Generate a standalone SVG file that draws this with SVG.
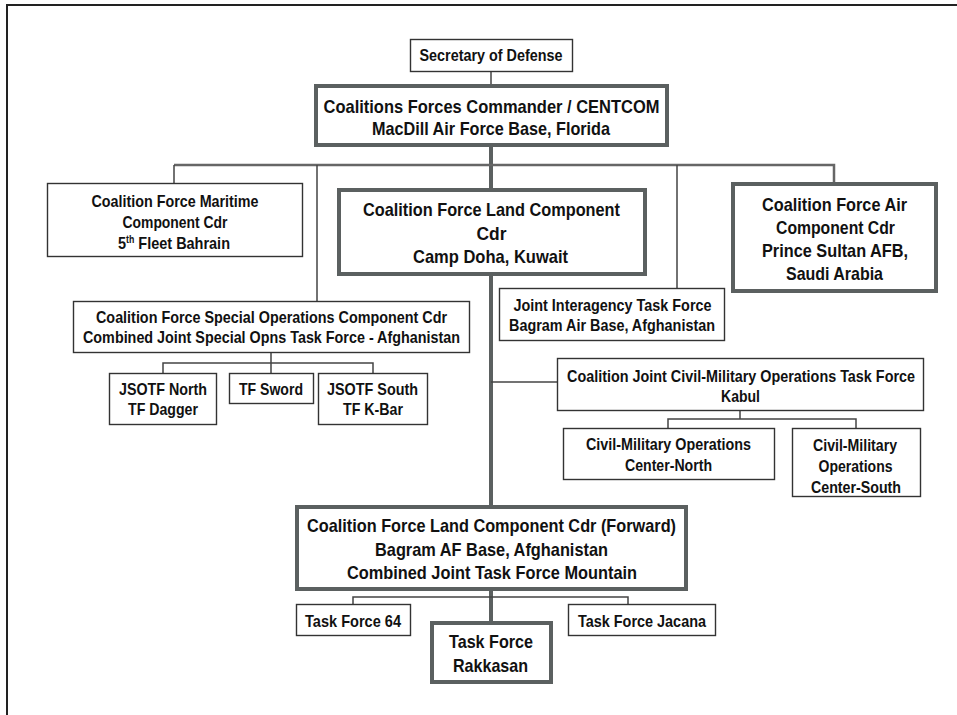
<svg xmlns="http://www.w3.org/2000/svg" width="957" height="715" viewBox="0 0 957 715">
<style>
text{font-family:"Liberation Sans Narrow","Liberation Sans",Arial,sans-serif;font-weight:bold;fill:#111;text-anchor:middle}
.s{font-size:16.5px}
.b{font-size:18.5px}
.thin{fill:#fff;stroke:#333;stroke-width:1.4}
.thick{fill:#fff;stroke:#5b6060;stroke-width:4}
.c{fill:none;stroke:#444;stroke-width:1.5}
.bus{fill:none;stroke:#666;stroke-width:2.5}
.trunk{fill:none;stroke:#5b6060;stroke-width:4}
</style>
<rect x="0" y="0" width="957" height="715" fill="#fff"/>
<path d="M7,715 V5 H957" fill="none" stroke="#222" stroke-width="2"/>
<g id="connectors">
<path class="c" d="M491,71 V84"/>
<path class="trunk" d="M491,147 V505 M491,591 V621"/>
<path class="bus" d="M174,165 H834 V182"/>
<path class="c" d="M174,165 V183 M317,165 V301 M677,165 V288"/>
<path class="c" d="M271,353 V363 M163,373 V363 H373 V373 M271,363 V373"/>
<path class="c" d="M491,382 H557"/>
<path class="c" d="M740,411 V419 M668,428 V419 H856 V428"/>
<path class="c" d="M353,604 V597 H628 V604"/>
</g>
<g id="secdef"><rect class="thin" x="410.5" y="39.5" width="162" height="32"/>
<text class="s" x="491" y="61" textLength="143" lengthAdjust="spacingAndGlyphs">Secretary of Defense</text></g>
<g id="centcom"><rect class="thick" x="316" y="86" width="351" height="59"/>
<text class="b" x="491.5" y="113" textLength="336" lengthAdjust="spacingAndGlyphs">Coalitions Forces Commander / CENTCOM</text>
<text class="b" x="491" y="135" textLength="238" lengthAdjust="spacingAndGlyphs">MacDill Air Force Base, Florida</text></g>
<g id="maritime"><rect class="thin" x="47.5" y="183.5" width="255" height="73"/>
<text class="s" x="175" y="207" textLength="167" lengthAdjust="spacingAndGlyphs">Coalition Force Maritime</text>
<text class="s" x="175" y="228" textLength="105" lengthAdjust="spacingAndGlyphs">Component Cdr</text>
<text class="s" x="174" y="249" textLength="112" lengthAdjust="spacingAndGlyphs">5<tspan font-size="10" dy="-6">th</tspan><tspan dy="6"> Fleet Bahrain</tspan></text></g>
<g id="land"><rect class="thick" x="339" y="190" width="306" height="84"/>
<text class="b" x="491.5" y="216" textLength="257" lengthAdjust="spacingAndGlyphs">Coalition Force Land Component</text>
<text class="b" x="491.5" y="240" textLength="30" lengthAdjust="spacingAndGlyphs">Cdr</text>
<text class="b" x="490.5" y="263" textLength="155" lengthAdjust="spacingAndGlyphs">Camp Doha, Kuwait</text></g>
<g id="air"><rect class="thick" x="733" y="184" width="203" height="107"/>
<text class="b" x="834.5" y="211" textLength="145" lengthAdjust="spacingAndGlyphs">Coalition Force Air</text>
<text class="b" x="835.5" y="234" textLength="119" lengthAdjust="spacingAndGlyphs">Component Cdr</text>
<text class="b" x="835" y="257" textLength="146" lengthAdjust="spacingAndGlyphs">Prince Sultan AFB,</text>
<text class="b" x="834.5" y="280" textLength="97" lengthAdjust="spacingAndGlyphs">Saudi Arabia</text></g>
<g id="specops"><rect class="thin" x="73.5" y="301.5" width="396" height="51"/>
<text class="s" x="271.5" y="323" textLength="351" lengthAdjust="spacingAndGlyphs">Coalition Force Special Operations Component Cdr</text>
<text class="s" x="271.5" y="343" textLength="377" lengthAdjust="spacingAndGlyphs">Combined Joint Special Opns Task Force - Afghanistan</text></g>
<g id="jsotf-north"><rect class="thin" x="109.5" y="373.5" width="107" height="51"/>
<text class="s" x="163" y="395" textLength="88" lengthAdjust="spacingAndGlyphs">JSOTF North</text>
<text class="s" x="163" y="415" textLength="70" lengthAdjust="spacingAndGlyphs">TF Dagger</text></g>
<g id="tf-sword"><rect class="thin" x="229.5" y="373.5" width="84" height="30"/>
<text class="s" x="271" y="395" textLength="64" lengthAdjust="spacingAndGlyphs">TF Sword</text></g>
<g id="jsotf-south"><rect class="thin" x="318.5" y="373.5" width="109" height="51"/>
<text class="s" x="372.5" y="395" textLength="91" lengthAdjust="spacingAndGlyphs">JSOTF South</text>
<text class="s" x="373" y="415" textLength="60" lengthAdjust="spacingAndGlyphs">TF K-Bar</text></g>
<g id="jiatf"><rect class="thin" x="499.5" y="288.5" width="225" height="52"/>
<text class="s" x="612.5" y="311" textLength="198" lengthAdjust="spacingAndGlyphs">Joint Interagency Task Force</text>
<text class="s" x="612" y="331" textLength="206" lengthAdjust="spacingAndGlyphs">Bagram Air Base, Afghanistan</text></g>
<g id="cjcmotf"><rect class="thin" x="557.5" y="358.5" width="366" height="52"/>
<text class="s" x="741" y="382" textLength="348" lengthAdjust="spacingAndGlyphs">Coalition Joint Civil-Military Operations Task Force</text>
<text class="s" x="740.5" y="402" textLength="39" lengthAdjust="spacingAndGlyphs">Kabul</text></g>
<g id="cmoc-north"><rect class="thin" x="563.5" y="428.5" width="211" height="51"/>
<text class="s" x="668.5" y="450" textLength="165" lengthAdjust="spacingAndGlyphs">Civil-Military Operations</text>
<text class="s" x="668.5" y="471" textLength="87" lengthAdjust="spacingAndGlyphs">Center-North</text></g>
<g id="cmoc-south"><rect class="thin" x="792.5" y="428.5" width="128" height="68"/>
<text class="s" x="855" y="451" textLength="84" lengthAdjust="spacingAndGlyphs">Civil-Military</text>
<text class="s" x="855.5" y="472" textLength="74" lengthAdjust="spacingAndGlyphs">Operations</text>
<text class="s" x="856" y="493" textLength="90" lengthAdjust="spacingAndGlyphs">Center-South</text></g>
<g id="forward"><rect class="thick" x="297" y="507" width="389" height="82"/>
<text class="b" x="491.5" y="532" textLength="369" lengthAdjust="spacingAndGlyphs">Coalition Force Land Component Cdr (Forward)</text>
<text class="b" x="491.5" y="556" textLength="233" lengthAdjust="spacingAndGlyphs">Bagram AF Base, Afghanistan</text>
<text class="b" x="492" y="579" textLength="290" lengthAdjust="spacingAndGlyphs">Combined Joint Task Force Mountain</text></g>
<g id="tf64"><rect class="thin" x="296.5" y="604.5" width="114" height="31"/>
<text class="s" x="353" y="627" textLength="96" lengthAdjust="spacingAndGlyphs">Task Force 64</text></g>
<g id="tf-jacana"><rect class="thin" x="568.5" y="604.5" width="147" height="31"/>
<text class="s" x="642" y="627" textLength="128" lengthAdjust="spacingAndGlyphs">Task Force Jacana</text></g>
<g id="tf-rakkasan"><rect class="thick" x="432" y="623" width="119" height="59"/>
<text class="b" x="491" y="648" textLength="84" lengthAdjust="spacingAndGlyphs">Task Force</text>
<text class="b" x="490.5" y="672" textLength="75" lengthAdjust="spacingAndGlyphs">Rakkasan</text></g>
</svg>
